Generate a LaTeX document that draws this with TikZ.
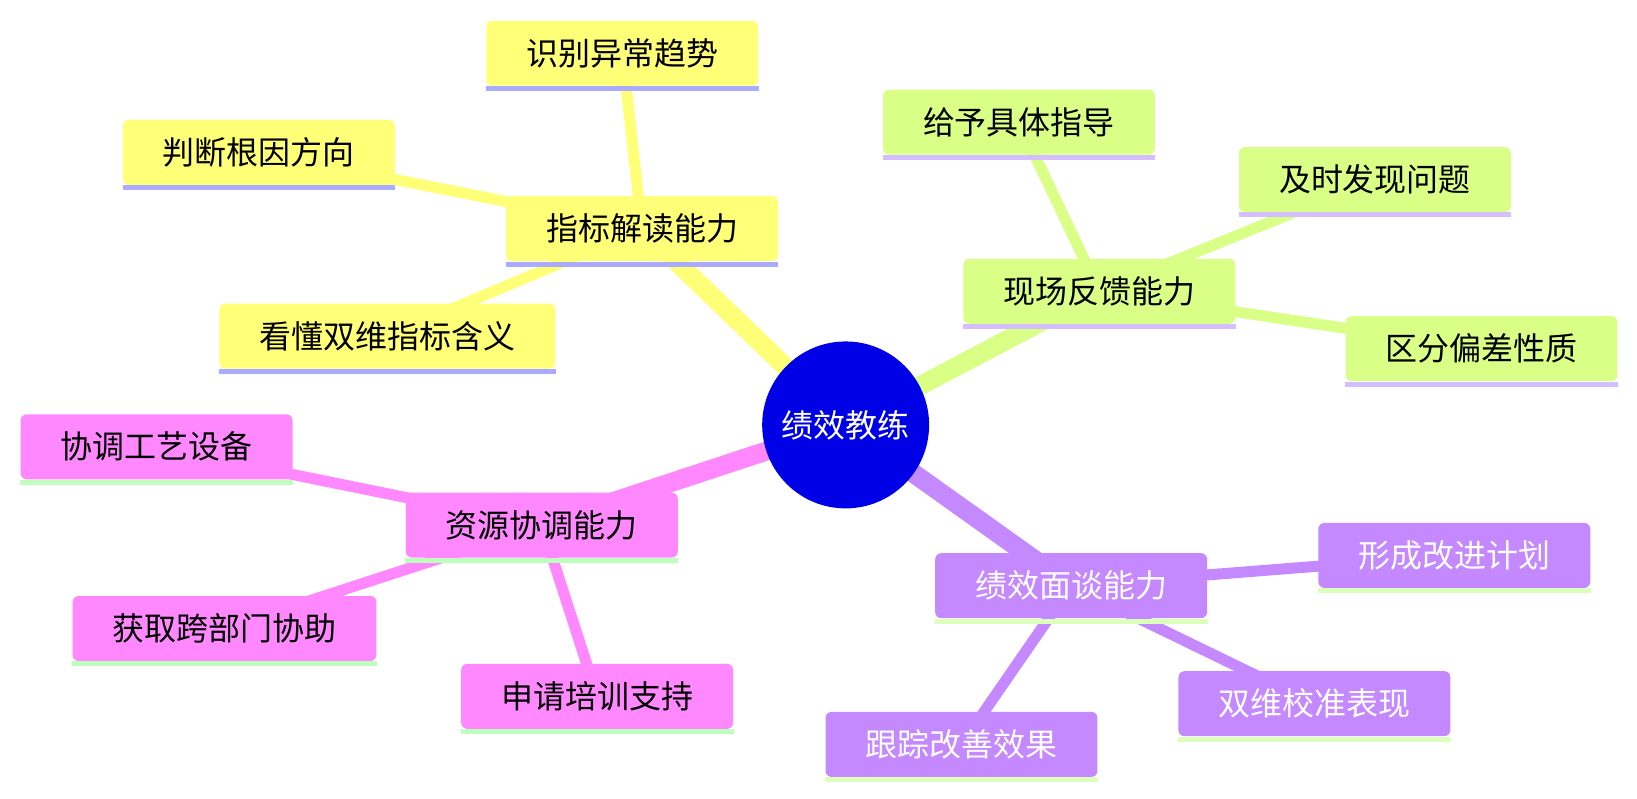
\documentclass[tikz,border=0pt]{standalone}
\usepackage{fontspec}
\newfontfamily\cjk{Noto Sans CJK SC}
\usetikzlibrary{backgrounds}
\definecolor{rootblue}{RGB}{0,0,230}
\definecolor{secyellow}{RGB}{255,255,120}
\definecolor{secgreen}{RGB}{218,255,134}
\definecolor{secpink}{RGB}{255,136,255}
\definecolor{secpurple}{RGB}{196,136,255}
\definecolor{lineblue}{RGB}{170,170,255}
\definecolor{linelilac}{RGB}{212,190,255}
\definecolor{linemint}{RGB}{190,255,190}
\definecolor{linelime}{RGB}{220,255,185}

\begin{document}
\begin{tikzpicture}[
    x=0.5222pt, y=-0.5222pt,
    idea/.style={rectangle, rounded corners=3pt, minimum height=32.5pt, inner xsep=20pt, font=\cjk\fontsize{16}{19}\selectfont},
    root/.style={circle, fill=rootblue, minimum size=83.5pt, inner sep=0pt, text=white, font=\cjk\fontsize{16}{19}\selectfont},
    trunk/.style={line width=9.5pt},
    twig/.style={line width=5.5pt}
]
\useasboundingbox (0,0) rectangle (1568,765);

% centre
\node[root] (coach) at (810,407) {绩效教练};

% reading metrics
\node[idea, fill=secyellow] (metric) at (615,219) {指标解读能力};
\node[idea, fill=secyellow] (trend) at (596,51) {识别异常趋势};
\node[idea, fill=secyellow] (cause) at (248,146) {判断根因方向};
\node[idea, fill=secyellow] (dual) at (371,322) {看懂双维指标含义};

% on-site feedback
\node[idea, fill=secgreen] (site) at (1053,279) {现场反馈能力};
\node[idea, fill=secgreen] (guide) at (976,117) {给予具体指导};
\node[idea, fill=secgreen] (timely) at (1317,172) {及时发现问题};
\node[idea, fill=secgreen] (devia) at (1419,334) {区分偏差性质};

% resources
\node[idea, fill=secpink] (res) at (519,503) {资源协调能力};
\node[idea, fill=secpink] (equip) at (150,428) {协调工艺设备};
\node[idea, fill=secpink] (cross) at (215,602) {获取跨部门协助};
\node[idea, fill=secpink] (train) at (572,667) {申请培训支持};

% review talk
\node[idea, fill=secpurple, text=white] (talk) at (1026,561) {绩效面谈能力};
\node[idea, fill=secpurple, text=white] (plan) at (1393,532) {形成改进计划};
\node[idea, fill=secpurple, text=white] (calib) at (1259,674) {双维校准表现};
\node[idea, fill=secpurple, text=white] (track) at (921,713) {跟踪改善效果};

% underlines
\foreach \n/\c in {metric/lineblue, trend/lineblue, cause/lineblue, dual/lineblue,
    site/linelilac, guide/linelilac, timely/linelilac, devia/linelilac,
    res/linemint, equip/linemint, cross/linemint, train/linemint,
    talk/linelime, plan/linelime, calib/linelime, track/linelime}
  \draw[\c, line width=2.5pt] ([yshift=-1.25pt]\n.south west) -- ([yshift=-1.25pt]\n.south east);

\begin{scope}[on background layer]
\draw[trunk, secyellow] (coach.center) -- (metric.center);
\draw[trunk, secgreen] (coach.center) -- (site.center);
\draw[trunk, secpink] (coach.center) -- (res.center);
\draw[trunk, secpurple] (coach.center) -- (talk.center);

\foreach \a in {trend, cause, dual}
  \draw[twig, secyellow] (metric.center) -- (\a.center);
\foreach \a in {guide, timely, devia}
  \draw[twig, secgreen] (site.center) -- (\a.center);
\foreach \a in {equip, cross, train}
  \draw[twig, secpink] (res.center) -- (\a.center);
\foreach \a in {plan, calib, track}
  \draw[twig, secpurple] (talk.center) -- (\a.center);
\end{scope}
\end{tikzpicture}
\end{document}
